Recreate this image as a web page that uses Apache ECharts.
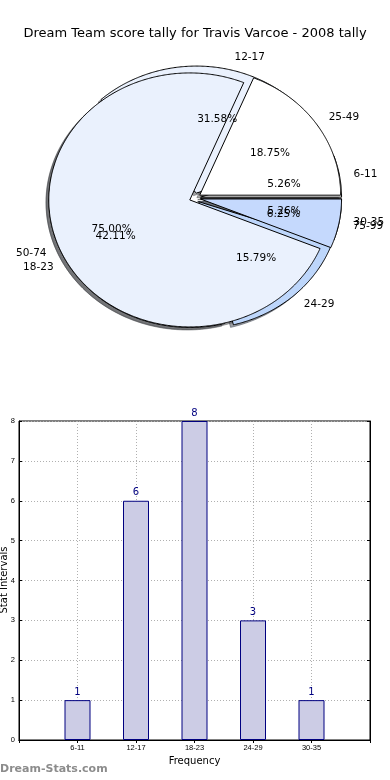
<!DOCTYPE html>
<html><head><meta charset="utf-8">
<script src="https://cdn.jsdelivr.net/npm/echarts@6/dist/echarts.min.js"></script>
<style>html,body{margin:0;padding:0;background:#fff}#c{width:390px;height:780px}</style>
</head><body><div id="c"></div>
<script>
const titleText = 'Dream Team score tally for Travis Varcoe - 2008 tally';
const pie1Labels = ['6-11', '12-17', '18-23', '24-29', '30-35'];
const pie1Values = [1, 6, 8, 3, 1];
const pie1Colors = ['#ffffff', '#eaf1fd', '#eaf1fd', '#bdd6fb', '#c5d9fd'];
const pie2Labels = ['25-49', '50-74', '75-99'];
const pie2Values = [3, 12, 1];
const pie2Colors = ['#ffffff', '#eaf1fd', '#c5d9fd'];
const barCategories = ['6-11', '12-17', '18-23', '24-29', '30-35'];
const barValues = [1, 6, 8, 3, 1];
const yAxisName = 'Stat Intervals';
const xAxisName = 'Frequency';
const watermark = 'Dream-Stats.com';

const EXPLODE = 0.04, SH_DX = -0.02, SH_DY = -0.02;
const FONT = '"DejaVu Sans", sans-serif';

function sliceGeom(values, i) {
  const total = values.reduce((a, b) => a + b, 0);
  let cum = 0;
  for (let k = 0; k < i; k++) cum += values[k];
  const t1 = cum / total * 2 * Math.PI, t2 = (cum + values[i]) / total * 2 * Math.PI, tm = (t1 + t2) / 2;
  return { t1, t2, tm, pct: values[i] / total * 100, cx: EXPLODE * Math.cos(tm), cy: EXPLODE * Math.sin(tm) };
}
function wedgePoints(api, g, dx, dy) {
  const pts = [api.coord([g.cx + dx, g.cy + dy])];
  const n = Math.max(2, Math.ceil((g.t2 - g.t1) / (Math.PI / 360)));
  for (let j = 0; j <= n; j++) {
    const t = g.t1 + (g.t2 - g.t1) * j / n;
    pts.push(api.coord([g.cx + dx + Math.cos(t), g.cy + dy + Math.sin(t)]));
  }
  return pts;
}
function shade(hex) {
  const r = parseInt(hex.slice(1, 3), 16), gg = parseInt(hex.slice(3, 5), 16), b = parseInt(hex.slice(5, 7), 16);
  return 'rgb(' + Math.round(r * 0.3) + ',' + Math.round(gg * 0.3) + ',' + Math.round(b * 0.3) + ')';
}
function pieSeries(values, labels, colors, layer, z) {
  return {
    type: 'custom', coordinateSystem: 'cartesian2d', xAxisIndex: 2, yAxisIndex: 2,
    z: z, silent: true, clip: false, animation: false,
    data: values.map(v => [0, 0, v]), encode: { x: 0, y: 1 },
    renderItem(params, api) {
      const i = params.dataIndex;
      const g = sliceGeom(values, i);
      if (layer === 'shadow') {
        return { type: 'polygon', shape: { points: wedgePoints(api, g, SH_DX, SH_DY) },
          style: { fill: shade(colors[i]), opacity: 0.5, stroke: shade(colors[i]), lineWidth: 1 } };
      }
      if (layer === 'wedge') {
        return { type: 'polygon', shape: { points: wedgePoints(api, g, 0, 0) },
          style: { fill: colors[i], stroke: '#000', lineWidth: 1 } };
      }
      const c = Math.cos(g.tm), s = Math.sin(g.tm);
      const pp = api.coord([g.cx + 0.6 * c, g.cy + 0.6 * s]);
      const lp = api.coord([g.cx + 1.1 * c, g.cy + 1.1 * s]);
      return { type: 'group', children: [
        { type: 'text', x: pp[0], y: pp[1], style: { text: g.pct.toFixed(2) + '%', fill: '#000', font: '10.5px ' + FONT, align: 'center', verticalAlign: 'middle' } },
        { type: 'text', x: lp[0], y: lp[1], style: { text: labels[i], fill: '#000', font: '10.5px ' + FONT, align: c > 0 ? 'left' : 'right', verticalAlign: 'middle' } }
      ] };
    }
  };
}

const axisCats = [''].concat(barCategories, ['']);
const barData = [null].concat(barValues, [null]);
const dotted = { show: true, lineStyle: { color: '#b0b0b0', type: [1, 2], width: 1 } };

const chart = echarts.init(document.getElementById('c'));
chart.setOption({
  animation: false,
  backgroundColor: '#fff',
  title: { text: titleText, left: 'center', top: 22, textStyle: { fontFamily: FONT, fontSize: 13, fontWeight: 'normal', color: '#000' } },
  graphic: [
    { type: 'text', left: 0, top: 764, style: { text: watermark, fill: '#8c8c8c', font: 'bold 11px ' + FONT } },
    { type: 'text', x: 4, y: 580, rotation: Math.PI / 2, style: { text: yAxisName, fill: '#000', font: '10px ' + FONT, align: 'center', verticalAlign: 'middle' } }
  ],
  grid: [
    { left: 19, right: 20, top: 421, bottom: 40, containLabel: false, outerBoundsMode: 'none', show: true, borderColor: '#000', borderWidth: 1, backgroundColor: 'transparent' },
    { left: 54, width: 282, top: 71, height: 254, containLabel: false, outerBoundsMode: 'none', show: false }
  ],
  xAxis: [
    { type: 'category', gridIndex: 0, data: axisCats, boundaryGap: false,
      axisLine: { show: true, lineStyle: { color: '#000' } },
      axisTick: { show: true, inside: true, length: 3, alignWithLabel: true, lineStyle: { color: '#000' } },
      axisLabel: { show: true, interval: 0, fontSize: 7.5, fontFamily: 'Liberation Sans', color: '#000', margin: 4 },
      splitLine: Object.assign({ interval: 0 }, dotted),
      name: xAxisName, nameLocation: 'middle', nameGap: 16, nameTextStyle: { fontFamily: FONT, fontSize: 10, color: '#000' } },
    { type: 'category', gridIndex: 0, data: axisCats, boundaryGap: false, position: 'top',
      axisLine: { show: true, lineStyle: { color: '#000' } },
      axisTick: { show: true, inside: true, length: 3, interval: 0, lineStyle: { color: '#000' } },
      axisLabel: { show: false }, splitLine: { show: false } },
    { type: 'value', gridIndex: 1, min: -1, max: 1, show: false }
  ],
  yAxis: [
    { type: 'value', gridIndex: 0, min: 0, max: 8, interval: 1,
      axisLine: { show: true, lineStyle: { color: '#000' } },
      axisTick: { show: true, inside: true, length: 3, lineStyle: { color: '#000' } },
      axisLabel: { fontSize: 7.5, fontFamily: 'Liberation Sans', color: '#000', margin: 4 },
      splitLine: dotted },
    { type: 'value', gridIndex: 0, min: 0, max: 8, interval: 1, position: 'right',
      axisLine: { show: true, lineStyle: { color: '#000' } },
      axisTick: { show: true, inside: true, length: 3, lineStyle: { color: '#000' } },
      axisLabel: { show: false }, splitLine: { show: false } },
    { type: 'value', gridIndex: 1, min: -1, max: 1, show: false }
  ],
  series: [
    { type: 'bar', xAxisIndex: 0, yAxisIndex: 0, data: barData, barWidth: 26, z: 3,
      itemStyle: { color: '#cccce5', borderColor: '#000080', borderWidth: 1 },
      label: { show: true, position: 'top', distance: 3, color: '#000080', fontSize: 10, fontFamily: FONT } },
    pieSeries(pie1Values, pie1Labels, pie1Colors, 'shadow', 1),
    pieSeries(pie2Values, pie2Labels, pie2Colors, 'shadow', 1),
    pieSeries(pie1Values, pie1Labels, pie1Colors, 'wedge', 2),
    pieSeries(pie2Values, pie2Labels, pie2Colors, 'wedge', 3),
    pieSeries(pie1Values, pie1Labels, pie1Colors, 'text', 5),
    pieSeries(pie2Values, pie2Labels, pie2Colors, 'text', 5)
  ]
});
</script></body></html>
